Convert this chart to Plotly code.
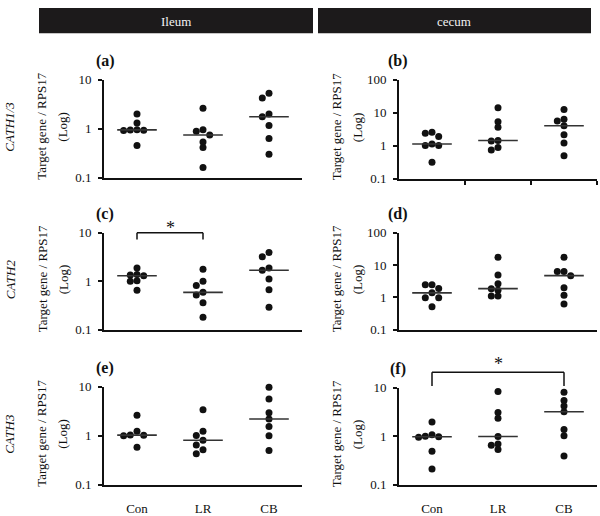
import numpy as np
import plotly.graph_objects as go

# ---------------- data ----------------
groups = ["Con", "LR", "CB"]
panel_letters = ["(a)", "(b)", "(c)", "(d)", "(e)", "(f)"]
gene_labels = ["CATH1/3", "CATH2", "CATH3"]
tissues = ["Ileum", "cecum"]
y_title = "Target gene / RPS17"
y_sub = "(Log)"

# (a) CATH1/3 ileum
a_con = [1.98, 1.30, 0.95, 0.94, 0.93, 0.92, 0.45]
a_lr = [2.6, 0.95, 0.88, 0.74, 0.53, 0.41, 0.16]
a_cb = [5.3, 4.2, 1.98, 1.75, 1.16, 0.63, 0.30]
# (b) CATH1/3 cecum
b_con = [2.55, 2.38, 1.89, 1.12, 1.0, 1.0, 0.31]
b_lr = [14.1, 5.3, 3.6, 1.42, 1.38, 0.87, 0.73]
b_cb = [12.5, 6.3, 5.6, 4.0, 2.12, 1.2, 0.49]
# (c) CATH2 ileum
c_con = [1.88, 1.38, 1.34, 1.30, 1.02, 1.0, 0.65]
c_lr = [1.77, 1.0, 0.82, 0.59, 0.52, 0.36, 0.18]
c_cb = [3.9, 3.2, 1.88, 1.68, 1.11, 0.67, 0.29]
# (d) CATH2 cecum
d_con = [2.45, 2.45, 1.9, 1.38, 0.98, 0.98, 0.51]
d_lr = [17.4, 4.9, 2.63, 1.86, 1.66, 1.1, 1.1]
d_cb = [17.4, 6.3, 6.3, 4.7, 2.0, 1.17, 0.62]
# (e) CATH3 ileum
e_con = [2.64, 1.24, 1.04, 1.02, 1.0, 0.58]
e_lr = [3.4, 1.24, 1.01, 0.81, 0.65, 0.52, 0.43]
e_cb = [9.8, 5.65, 2.95, 2.2, 1.55, 1.0, 0.5]
# (f) CATH3 cecum
f_con = [1.97, 1.08, 1.0, 0.98, 0.95, 0.49, 0.21]
f_lr = [8.4, 3.1, 2.36, 0.99, 0.69, 0.65, 0.53]
f_cb = [8.05, 5.5, 4.2, 3.2, 1.38, 1.03, 0.39]

panel_data = [
    [a_con, a_lr, a_cb], [b_con, b_lr, b_cb],
    [c_con, c_lr, c_cb], [d_con, d_lr, d_cb],
    [e_con, e_lr, e_cb], [f_con, f_lr, f_cb],
]

# ---------------- layout (pixels) ----------------
W, H = 600, 516
def fx(px): return px / W
def fy(py): return 1 - py / H

# x0, x1, ytop, ybottom, log range
boxes = [
    (104, 302, 75, 176, (-1, 1)),
    (399, 597, 75, 177, (-1, 2)),
    (104, 302, 233, 333, (-1, 1)),
    (399, 597, 233, 333, (-1, 2)),
    (104, 302, 392, 493, (-1, 1)),
    (399, 597, 393, 493, (-1, 1)),
]

FONT = "Liberation Serif"
INK = "#111111"


def swarm(vals, px_per_dec, unit_px, d=5.5, step_px=6.7):
    placed = []
    offs = []
    for v in vals:
        y = np.log10(v) * px_per_dec
        for k in [0, -1, 1, -2, 2, -3, 3]:
            if all(not (kk == k and abs(yy - y) < d) for kk, yy in placed):
                break
        placed.append((k, y))
        offs.append(k * step_px / unit_px)
    return offs


fig = go.Figure()
layout = dict(
    width=W, height=H, margin=dict(l=0, r=0, t=0, b=0),
    paper_bgcolor="white", plot_bgcolor="white", showlegend=False,
    font=dict(family=FONT, size=13, color=INK),
)
annotations = []
shapes = []

for i, (box, series) in enumerate(zip(boxes, panel_data)):
    n = i + 1
    xa = "xaxis" if n == 1 else f"xaxis{n}"
    ya = "yaxis" if n == 1 else f"yaxis{n}"
    xr = "x" if n == 1 else f"x{n}"
    yr = "y" if n == 1 else f"y{n}"
    x0, x1, yt, yb, lr = box
    unit_px = (x1 - x0) / 3.0
    ppd = (yb - yt) / (lr[1] - lr[0])

    for g, vals in enumerate(series):
        offs = swarm(vals, ppd, unit_px)
        fig.add_trace(go.Scatter(
            x=[g + o for o in offs], y=vals, mode="markers",
            marker=dict(size=7, color=INK), xaxis=xr, yaxis=yr,
            cliponaxis=False, hoverinfo="skip"))
        med = float(np.median(vals))
        fig.add_trace(go.Scatter(
            x=[g - 0.3, g + 0.3], y=[med, med], mode="lines",
            line=dict(color="#333333", width=1.6), xaxis=xr, yaxis=yr,
            hoverinfo="skip"))

    bottom = n in (5, 6)
    xaxis = dict(
        domain=[fx(x0), fx(x1)], range=[-0.5, 2.5], anchor=yr,
        showline=True, linewidth=2, linecolor=INK, showgrid=False,
        zeroline=False, fixedrange=True,
    )
    if bottom:
        xaxis.update(tickmode="array", tickvals=[0, 1, 2], ticktext=groups,
                     ticks="", showticklabels=True, ticklabelstandoff=11,
                     tickfont=dict(family=FONT, size=13, color=INK))
    elif n == 2:
        xaxis.update(tickmode="array", tickvals=[0.5, 1.5, 2.5], ticks="outside",
                     ticklen=4, tickwidth=1.5, tickcolor=INK, showticklabels=False)
    else:
        xaxis.update(showticklabels=False, ticks="")
    layout[xa] = xaxis

    tv = [0.1, 1, 10] + ([100] if lr[1] == 2 else [])
    layout[ya] = dict(
        domain=[fy(yb), fy(yt)], type="log", range=list(lr), anchor=xr,
        tickmode="array", tickvals=tv, ticktext=[("%g" % t) for t in tv],
        ticks="outside", ticklen=4, tickwidth=2, tickcolor=INK,
        ticklabelstandoff=4,
        showline=True, linewidth=2, linecolor=INK, showgrid=False,
        zeroline=False, fixedrange=True,
        tickfont=dict(family=FONT, size=13, color=INK),
    )

    # panel letter
    annotations.append(dict(
        text=f"<b>{panel_letters[i]}</b>", xref="paper", yref="paper",
        x=fx(x0 + 1 if n % 2 == 1 else x0 - 1), y=fy(yt - 19),
        xanchor="center", yanchor="middle", showarrow=False,
        font=dict(family=FONT, size=16, color=INK)))
    # y titles
    cy = fy((yt + yb) / 2 - 2)
    tx = 42 if n % 2 == 1 else 336
    annotations.append(dict(
        text=y_title, xref="paper", yref="paper", x=fx(tx), y=cy,
        textangle=-90, showarrow=False, xanchor="center", yanchor="middle",
        font=dict(family=FONT, size=13, color=INK)))
    annotations.append(dict(
        text=y_sub, xref="paper", yref="paper", x=fx(tx + 21), y=cy,
        textangle=-90, showarrow=False, xanchor="center", yanchor="middle",
        font=dict(family=FONT, size=13, color=INK)))
    if n % 2 == 1:
        annotations.append(dict(
            text=f"<i>{gene_labels[i // 2]}</i>", xref="paper", yref="paper",
            x=fx(10), y=cy, textangle=-90, showarrow=False,
            xanchor="center", yanchor="middle",
            font=dict(family=FONT, size=13, color=INK)))

# significance brackets
def bracket(n, g0, g1, ytop, yleg, ystar):
    xr = f"x{n}"
    yd = f"y{n} domain"
    for (xa0, ya0, xa1, ya1) in [(g0, yleg, g0, ytop), (g0, ytop, g1, ytop), (g1, ytop, g1, yleg)]:
        shapes.append(dict(type="line", xref=xr, yref=yd, x0=xa0, x1=xa1,
                           y0=ya0, y1=ya1, line=dict(color=INK, width=1.5)))
    annotations.append(dict(text="*", xref=xr, yref=yd, x=(g0 + g1) / 2, y=ystar,
                            showarrow=False, xanchor="center", yanchor="middle",
                            font=dict(family=FONT, size=18, color=INK)))

bracket(3, 0, 1, 1.0, 0.93, 1.05)
bracket(6, 0, 2, 1.16, 1.02, 1.25)

# tissue header bars
for (bx0, bx1), name in zip([(39, 313), (318, 591)], tissues):
    shapes.append(dict(type="rect", xref="paper", yref="paper",
                       x0=fx(bx0), x1=fx(bx1), y0=fy(27), y1=fy(1),
                       fillcolor="#1c1a1b", line=dict(width=0), layer="below"))
    annotations.append(dict(text=name, xref="paper", yref="paper",
                            x=fx((bx0 + bx1) / 2), y=fy(15), showarrow=False,
                            xanchor="center", yanchor="middle",
                            font=dict(family=FONT, size=13, color="#f2f2f2")))

layout["annotations"] = annotations
layout["shapes"] = shapes
fig.update_layout(**layout)
fig.write_html("out.html", config={"displayModeBar": False, "staticPlot": True},
               post_script="document.body.style.margin='0px';document.body.style.overflow='hidden';")
